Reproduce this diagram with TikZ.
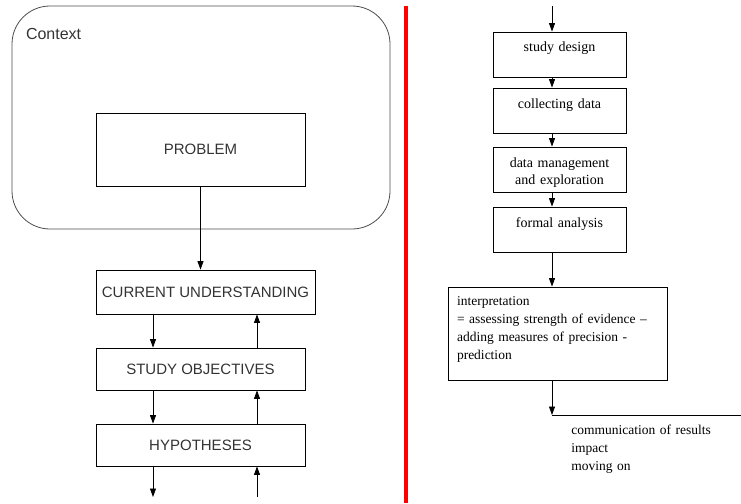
\documentclass[tikz,border=0pt]{standalone}
\usepackage{fontspec}
\setmainfont{Liberation Serif}
\setsansfont{Liberation Sans}
\usetikzlibrary{calc,arrows.meta}

\begin{document}
\begin{tikzpicture}[x=1pt, y=-1pt, line width=0.8pt,
        arr/.style={-{Triangle[length=8.5pt,width=6pt]}},
        lbox/.style={draw=black, inner sep=0pt, font=\sffamily\fontsize{15}{18}\selectfont, text=black!80},
        rbox/.style={draw=black, inner sep=0pt, text width=133pt, align=center, text height=20pt, text depth=25pt, font=\fontsize{14}{17.5}\selectfont}]
        \useasboundingbox (0,0) rectangle (741,503);

        % left half
        \node (ctx) [draw=black!70, rounded corners=38pt, minimum width=378pt, minimum height=223pt] at (201,117.5) {};
        \node (ctxtext) [anchor=base west, inner sep=0pt, font=\sffamily\fontsize{16}{18}\selectfont, text=black!80] at ($(ctx.north west) + (14,34)$) {Context};

        \node (prob) [lbox, minimum width=209pt, minimum height=73pt] at (200.5,149.5) {PROBLEM};
        \node (cu) [lbox, minimum width=219pt, minimum height=44pt] at (205.5,292) {CURRENT UNDERSTANDING};
        \node (so) [lbox, minimum width=209pt, minimum height=42pt] at (200.5,369) {STUDY OBJECTIVES};
        \node (hy) [lbox, minimum width=209pt, minimum height=42pt] at (200.5,445) {HYPOTHESES};

        \coordinate (lx) at (153,0);
        \coordinate (rx) at (257,0);
        \coordinate (lend) at (153,497);
        \coordinate (rend) at (257,497);

        \draw[arr] (prob.south) -- (prob.south |- cu.north);
        \draw[arr] (cu.south -| lx) -- (so.north -| lx);
        \draw[arr] (so.south -| lx) -- (hy.north -| lx);
        \draw[arr] (hy.south -| lx) -- (lend);
        \draw[arr] (so.north -| rx) -- (cu.south -| rx);
        \draw[arr] (hy.north -| rx) -- (so.south -| rx);
        \draw[arr] (rend) -- (hy.south -| rx);

        % divider
        \draw[red, line width=4pt] (406,6) -- (406,503);

        % right half
        \coordinate (ax) at (552,0);
        \coordinate (rtop) at (552,6);
        \node (design) [rbox] at (559.5,54.5) {study design};
        \node (collect) [rbox] at (559.5,110.5) {collecting data};
        \node (manage) [rbox] at (559.5,169.5) {data management\\and exploration};
        \node (formal) [rbox] at (559.5,229.5) {formal analysis};
        \node (interp) [draw=black, inner xsep=9pt, inner ysep=0pt, text width=201pt, align=left, text height=18pt, text depth=75pt, font=\fontsize{13.5}{18.3}\selectfont] at (557.5,333.5) {interpretation\\= assessing strength of evidence --\\adding measures of precision -\\prediction};

        \coordinate (tip) at (552,415);
        \coordinate (rightend) at (741,415);

        \draw[arr] (rtop) -- (design.north -| ax);
        \draw[arr] (design.south -| ax) -- (collect.north -| ax);
        \draw[arr] (collect.south -| ax) -- (manage.north -| ax);
        \draw[arr] (manage.south -| ax) -- (formal.north -| ax);
        \draw[arr] (formal.south -| ax) -- (interp.north -| ax);
        \draw[arr] (interp.south -| ax) -- (tip);
        \draw (tip) -- (rightend);

        \node (comm) [anchor=base west, text width=170pt, align=left, inner sep=0pt, font=\fontsize{13.5}{18.3}\selectfont] at ($(tip) + (19,19)$) {communication of results\\impact\\moving on};
\end{tikzpicture}
\end{document}
